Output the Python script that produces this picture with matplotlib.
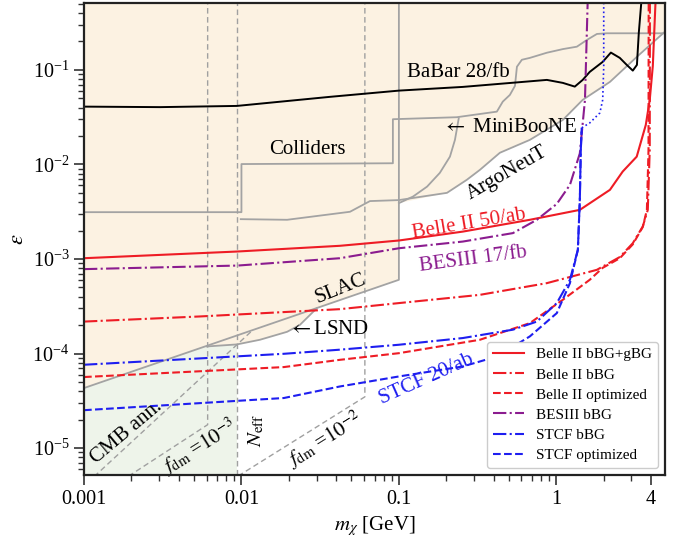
import numpy as np
import matplotlib
matplotlib.use("Agg")
import matplotlib.pyplot as plt
from matplotlib.patches import Polygon

plt.rcParams["font.family"] = ["Liberation Serif", "DejaVu Serif"]
plt.rcParams["mathtext.fontset"] = "stix"

# ---------------- existing bounds (gray) ----------------
slac_m = [0.001, 0.1, 0.1]
slac_eps = [4.32e-5, 6.03e-4, 1.0]

lsnd_m = [0.00604, 0.00935, 0.0131, 0.0195, 0.0235, 0.0300]
lsnd_eps = [1.19e-4, 1.25e-4, 1.40e-4, 1.70e-4, 2.01e-4, 3.00e-4]

colliders_m = [0.001, 0.01, 0.01, 0.0916, 0.0916, 0.233, 0.419, 0.457, 0.507,
               0.546, 0.562, 0.604, 0.679, 0.871, 1.10, 1.35, 1.56, 1.81,
               2.09, 6.0]
colliders_eps = [3.13e-3, 3.13e-3, 0.0101, 0.0103, 0.0301, 0.0316, 0.0362,
                 0.0462, 0.0544, 0.0678, 0.108, 0.128, 0.134, 0.152, 0.166,
                 0.176, 0.207, 0.240, 0.244, 0.244]

miniboone_m = [0.240, 0.227, 0.211, 0.182, 0.151, 0.123, 0.1]
miniboone_eps = [0.0308, 0.0182, 0.0121, 8.15e-3, 5.83e-3, 4.58e-3, 3.9e-3]

argoneut_m = [0.0099, 0.0195, 0.0489, 0.0655, 0.1, 0.202, 0.270, 0.327,
              0.438, 0.679, 1.10, 1.47, 2.19, 3.24, 5.04]
argoneut_eps = [2.64e-3, 2.60e-3, 3.16e-3, 4.1e-3, 4.2e-3, 5.01e-3, 6.88e-3,
                8.77e-3, 0.0133, 0.0182, 0.0296, 0.0482, 0.0747, 0.137, 0.265]

babar_m = [0.001, 0.00304, 0.00935, 0.0365, 0.1, 0.2547, 0.871, 1.10, 1.31,
           1.47, 1.63, 1.97, 2.22, 2.53, 2.80, 3.06, 3.25, 3.34, 3.49]
babar_eps = [0.0409, 0.0404, 0.0416, 0.0519, 0.0604, 0.0661, 0.0784, 0.0729,
             0.0666, 0.0784, 0.0953, 0.1216, 0.1525, 0.134, 0.113, 0.0983,
             0.113, 0.246, 0.6]

# ---------------- cosmology (dashed gray) ----------------
neff_mass = 0.0094
fdm3_m = [0.0061, 0.0061, 0.0019]
fdm3_eps = [1.0, 1.77e-5, 5.0e-6]
fdm2_m = [0.0608, 0.0608, 0.0094]
fdm2_eps = [1.0, 3.49e-5, 5.0e-6]
cmb_m = [0.00116, 0.0117]
cmb_eps = [5.0e-6, 1.75e-4]

# ---------------- projected sensitivities ----------------
belle_full_m = [0.001, 0.00935, 0.0422, 0.1, 0.2547, 0.679, 1.41, 2.19, 2.64,
                3.24, 3.70, 3.92, 4.10, 4.28]
belle_full_eps = [1.02e-3, 1.20e-3, 1.38e-3, 1.57e-3, 1.95e-3, 2.60e-3,
                  3.31e-3, 5.39e-3, 8.42e-3, 0.0121, 0.0262, 0.0482, 0.110,
                  0.6]

belle_bbg_m = [0.001, 0.00545, 0.0422, 0.1, 0.327, 0.871, 1.81, 2.53, 3.06,
               3.54, 3.81, 3.92, 3.93]
belle_bbg_eps = [2.18e-4, 2.47e-4, 2.95e-4, 3.42e-4, 4.18e-4, 5.56e-4,
                 7.69e-4, 1.05e-3, 1.47e-3, 2.21e-3, 3.31e-3, 0.0143, 0.6]

belle_opt_m = [0.001, 0.0186, 0.0422, 0.1, 0.327, 0.679, 1.10, 1.63, 1.97,
               2.53, 3.06, 3.54, 3.76, 3.85, 3.86]
belle_opt_eps = [5.65e-5, 7.20e-5, 8.59e-5, 1.01e-4, 1.40e-4, 2.10e-4,
                 3.71e-4, 6.03e-4, 8.07e-4, 1.02e-3, 1.43e-3, 2.18e-3,
                 3.31e-3, 0.0143, 0.6]

besiii_m = [0.001, 0.00946, 0.0422, 0.1, 0.2547, 0.530, 0.752, 1.007, 1.22,
            1.41, 1.52, 1.585]
besiii_eps = [7.82e-4, 8.53e-4, 1.02e-3, 1.30e-3, 1.53e-3, 1.88e-3, 2.60e-3,
              3.83e-3, 6.08e-3, 0.0131, 0.0482, 0.6]

stcf_bbg_m = [0.001, 0.0186, 0.0422, 0.1, 0.2547, 0.530, 0.752, 1.007, 1.22,
              1.37, 1.41, 1.43, 1.45]
stcf_bbg_eps = [7.62e-5, 9.95e-5, 1.10e-4, 1.24e-4, 1.46e-4, 1.79e-4,
                2.18e-4, 3.42e-4, 6.03e-4, 1.25e-3, 4.23e-3, 0.0143, 0.0244]

stcf_opt_m = [0.001, 0.0186, 0.0422, 0.1, 0.2547, 0.419, 0.679, 1.007, 1.22,
              1.37, 1.41, 1.43, 1.45]
stcf_opt_eps = [2.52e-5, 3.39e-5, 4.49e-5, 5.73e-5, 7.31e-5, 9.31e-5,
                1.52e-4, 2.68e-4, 5.56e-4, 1.25e-3, 4.23e-3, 0.0143, 0.0244]

stcf_high_m = [1.45, 1.63, 1.89, 1.97, 2.00, 2.00]
stcf_high_eps = [0.0244, 0.0275, 0.0351, 0.0482, 0.108, 0.6]

x_ticks = [0.001, 0.01, 0.1, 1, 4]
x_ticklabels = ["0.001", "0.01", "0.1", "1", "4"]

# ---------------- figure ----------------
fig = plt.figure(figsize=(6.73, 5.41), dpi=100)
ax = fig.add_axes([84 / 673, 1 - 475 / 541, 581 / 673, 472 / 541])
ax.set_xscale("log")
ax.set_yscale("log")
xmin, xmax = 1e-3, 4.9
ymin, ymax = 5.2e-6, 0.51
ax.set_xlim(xmin, xmax)
ax.set_ylim(ymin, ymax)

beige = "#FCF2E2"
green = "#EEF4EA"
gray = "#A3A3A3"

# CMB / N_eff region
ax.axvspan(xmin, neff_mass, color=green, lw=0, zorder=0)

# excluded region: SLAC/LSND below 0.1 GeV, MiniBooNE/ArgoNeuT above
env = [(slac_m[0], slac_eps[0])]
env += list(zip(lsnd_m, lsnd_eps))
env += [(slac_m[1], slac_eps[1]), (miniboone_m[-1], miniboone_eps[-1])]
env += [(m, e) for m, e in zip(argoneut_m, argoneut_eps) if m > 0.1]
env += [(argoneut_m[-1], 2.0), (xmin, 2.0)]
ax.add_patch(Polygon(env, closed=True, facecolor=beige, edgecolor="none",
                     zorder=1))

glw = 1.3
ax.plot(slac_m, slac_eps, color=gray, lw=glw, zorder=2)
ax.plot(lsnd_m, lsnd_eps, color=gray, lw=glw, zorder=2)
ax.plot(colliders_m, colliders_eps, color=gray, lw=glw, zorder=2)
ax.plot(miniboone_m, miniboone_eps, color=gray, lw=glw, zorder=2)
ax.plot(argoneut_m, argoneut_eps, color=gray, lw=glw, zorder=2)
ax.plot(babar_m, babar_eps, color="black", lw=1.4, zorder=3)

dkw = dict(color="#A0A0A0", lw=1.0, ls=(0, (4, 2.5)), zorder=2)
ax.axvline(neff_mass, **dkw)
ax.plot(fdm3_m, fdm3_eps, **dkw)
ax.plot(fdm2_m, fdm2_eps, **dkw)
ax.plot(cmb_m, cmb_eps, **dkw)

red, purple, blue = "#EE1C25", "#8B1C8F", "#1E1EF0"
lw = 1.5
ax.plot(belle_full_m, belle_full_eps, color=red, lw=lw, ls="-",
        label="Belle II bBG+gBG", zorder=4)
ax.plot(belle_bbg_m, belle_bbg_eps, color=red, lw=lw, ls="-.",
        label="Belle II bBG", zorder=4)
ax.plot(belle_opt_m, belle_opt_eps, color=red, lw=lw, ls="--",
        label="Belle II optimized", zorder=4)
ax.plot(besiii_m, besiii_eps, color=purple, lw=lw, ls="-.",
        label="BESIII bBG", zorder=4)
ax.plot(stcf_bbg_m, stcf_bbg_eps, color=blue, lw=lw, ls="-.",
        label="STCF bBG", zorder=4)
ax.plot(stcf_opt_m, stcf_opt_eps, color=blue, lw=lw, ls="--",
        label="STCF optimized", zorder=4)
ax.plot(stcf_high_m, stcf_high_eps, color=blue, lw=1.2, ls=":", zorder=4)

# labels
fs = 15
tkw = dict(ha="center", va="center", rotation_mode="anchor", zorder=5)
ax.text(0.237, 0.093, "BaBar 28/fb", fontsize=fs, **tkw)
ax.text(0.0264, 0.01426, "Colliders", fontsize=fs, **tkw)
ax.text(0.1876, 0.0244, r"$\leftarrow$ MiniBooNE", fontsize=fs,
        ha="left", va="center", zorder=5)
ax.text(0.485, 8.15e-3, "ArgoNeuT", fontsize=fs, rotation=30, **tkw)
ax.text(0.278, 2.36e-3, "Belle II 50/ab", fontsize=fs, color=red,
        rotation=9.5, **tkw)
ax.text(0.295, 9.82e-4, "BESIII 17/fb", fontsize=fs, color=purple,
        rotation=7.5, **tkw)
ax.text(0.0428, 4.84e-4, "SLAC", fontsize=fs, rotation=22, **tkw)
ax.text(0.0197, 1.79e-4, r"$\leftarrow$LSND", fontsize=fs,
        ha="left", va="center", zorder=5)
ax.text(0.150, 5.3e-5, "STCF 20/ab", fontsize=fs, color=blue,
        rotation=24, **tkw)
ax.text(0.00185, 1.46e-5, "CMB ann.", fontsize=fs, rotation=40, **tkw)
ax.text(0.00537, 1.04e-5, r"$f_{\rm dm}$ =$10^{-3}$", fontsize=fs,
        rotation=32, **tkw)
ax.text(0.01254, 1.56e-5, r"$N_{\rm eff}$", fontsize=fs, rotation=90, **tkw)
ax.text(0.0339, 1.23e-5, r"$f_{\rm dm}$ =$10^{-2}$", fontsize=fs,
        rotation=32, **tkw)

ax.set_xticks(x_ticks)
ax.set_xticklabels(x_ticklabels)
ax.tick_params(axis="both", which="major", labelsize=14.5, length=7,
               width=1.2, color="#333333")
ax.tick_params(axis="both", which="minor", length=4, width=1.0,
               color="#333333")
for s in ax.spines.values():
    s.set_linewidth(1.6)
    s.set_color("#222222")
    s.set_zorder(6)

ax.set_xlabel(r"$m_\chi$ [GeV]", fontsize=15, labelpad=4)
ax.set_ylabel(r"$\epsilon$", fontsize=16, labelpad=3)

leg = ax.legend(loc="lower right", fontsize=11, handlelength=2.0,
                borderaxespad=0.45, framealpha=1.0, edgecolor="#CCCCCC",
                labelspacing=0.42)
leg.set_zorder(7)

fig.savefig("out.png", dpi=100)
